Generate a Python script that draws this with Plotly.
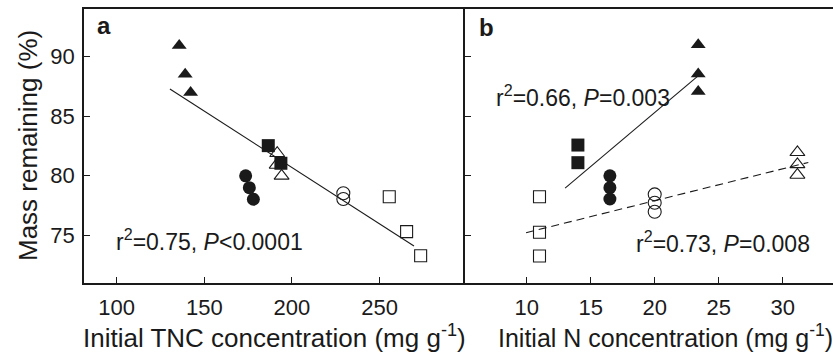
import plotly.graph_objects as go

# ---------------- data ----------------
# Panel a: initial TNC concentration (mg g-1) vs mass remaining (%)
a_filled_tri_x = [135.7, 139.1, 142.2]
a_filled_tri_y = [90.94, 88.52, 87.0]
a_open_tri_x = [191.6, 191.3, 194.1]
a_open_tri_y = [81.89, 80.91, 79.99]
a_filled_sq_x = [186.5, 193.7]
a_filled_sq_y = [82.53, 81.05]
a_filled_circ_x = [173.6, 175.7, 178.0]
a_filled_circ_y = [80.0, 79.0, 78.03]
a_open_circ_x = [229.3, 229.3]
a_open_circ_y = [78.53, 78.05]
a_open_sq_x = [255.5, 265.4, 273.4]
a_open_sq_y = [78.24, 75.31, 73.29]
a_fit_x = [130.4, 269.6]
a_fit_y = [87.28, 74.1]

# Panel b: initial N concentration (mg g-1) vs mass remaining (%)
b_open_sq_x = [11.0, 11.0, 11.0]
b_open_sq_y = [78.24, 75.26, 73.27]
b_filled_sq_x = [14.0, 14.0]
b_filled_sq_y = [82.58, 81.1]
b_filled_circ_x = [16.5, 16.5, 16.5]
b_filled_circ_y = [80.0, 79.0, 78.05]
b_open_circ_x = [20.0, 20.0, 20.0]
b_open_circ_y = [78.44, 77.74, 76.98]
b_filled_tri_x = [23.4, 23.4, 23.4]
b_filled_tri_y = [90.99, 88.55, 87.07]
b_open_tri_x = [31.15, 31.15, 31.15]
b_open_tri_y = [81.97, 80.96, 80.07]
b_fit_solid_x = [13.0, 23.6]
b_fit_solid_y = [78.97, 88.57]
b_fit_dash_x = [9.95, 32.0]
b_fit_dash_y = [75.22, 81.12]

y_ticks = [75, 80, 85, 90]
a_x_ticks = [100, 150, 200, 250]
b_x_ticks = [10, 15, 20, 25, 30]

# ---------------- figure ----------------
FONT = "Liberation Sans, Arial, sans-serif"
INK = "#1a1a1a"
fig = go.Figure()

def pts(x, y, symbol, filled, size, xa, ya):
    if filled:
        marker = dict(symbol=symbol, size=size, color=INK, line=dict(width=0))
    else:
        marker = dict(symbol=symbol + "-open", size=size, color=INK, line=dict(width=1.1))
    fig.add_trace(go.Scatter(x=x, y=y, mode="markers", marker=marker,
                             xaxis=xa, yaxis=ya, showlegend=False, hoverinfo="skip"))

def line(x, y, xa, ya, dash="solid"):
    fig.add_trace(go.Scatter(x=x, y=y, mode="lines", line=dict(color=INK, width=1.1, dash=dash),
                             xaxis=xa, yaxis=ya, showlegend=False, hoverinfo="skip"))

# panel a
line(a_fit_x, a_fit_y, "x", "y")
pts(a_filled_tri_x, a_filled_tri_y, "triangle-up", True, 13, "x", "y")
pts(a_open_tri_x, a_open_tri_y, "triangle-up", False, 13, "x", "y")
pts(a_filled_sq_x, a_filled_sq_y, "square", True, 13, "x", "y")
pts(a_filled_circ_x, a_filled_circ_y, "circle", True, 13, "x", "y")
pts(a_open_circ_x, a_open_circ_y, "circle", False, 13, "x", "y")
pts(a_open_sq_x, a_open_sq_y, "square", False, 12, "x", "y")

# panel b
line(b_fit_solid_x, b_fit_solid_y, "x2", "y2")
line(b_fit_dash_x, b_fit_dash_y, "x2", "y2", dash="8px,5px")
pts(b_open_sq_x, b_open_sq_y, "square", False, 12, "x2", "y2")
pts(b_filled_sq_x, b_filled_sq_y, "square", True, 13, "x2", "y2")
pts(b_filled_circ_x, b_filled_circ_y, "circle", True, 13, "x2", "y2")
pts(b_open_circ_x, b_open_circ_y, "circle", False, 13, "x2", "y2")
pts(b_filled_tri_x, b_filled_tri_y, "triangle-up", True, 13, "x2", "y2")
pts(b_open_tri_x, b_open_tri_y, "triangle-up", False, 13, "x2", "y2")

W, H = 833, 353
L, R, T, B = 84, 0, 9, 70
PW, PH = W - L - R, H - T - B
split = (465 - L) / PW

axis_common = dict(showgrid=False, zeroline=False, showline=True, linecolor=INK, linewidth=1.5,
                   ticks="inside", ticklen=6, tickwidth=1.3, tickcolor=INK,
                   tickfont=dict(family=FONT, size=22, color=INK))

fig.update_layout(
    width=W, height=H,
    margin=dict(l=L, r=R, t=T, b=B, pad=0),
    paper_bgcolor="white", plot_bgcolor="white",
    font=dict(family=FONT, color=INK),
    xaxis=dict(domain=[0, split], range=[81.4, 298.7], tickvals=a_x_ticks, mirror=True,
               anchor="y", ticklabelstandoff=4, **axis_common),
    yaxis=dict(domain=[0, 1], range=[71, 94], tickvals=y_ticks, mirror=False, anchor="x",
               ticklabelstandoff=3, **axis_common),
    xaxis2=dict(domain=[split, 1], range=[5.18, 33.93], tickvals=b_x_ticks, mirror=True,
                anchor="y2", ticklabelstandoff=4, **axis_common),
    yaxis2=dict(domain=[0, 1], range=[71, 94], tickvals=y_ticks, showticklabels=False,
                anchor="x2", **axis_common),
)

def ann(text, x, y, size=23, xanchor="left", bold=False, textangle=0):
    if bold:
        text = "<b>" + text + "</b>"
    fig.add_annotation(text=text, x=(x - L) / PW, y=1 - (y - T) / PH, xref="paper", yref="paper",
                       xanchor=xanchor, yanchor="middle", showarrow=False, textangle=textangle,
                       font=dict(family=FONT, size=size, color=INK))

ann("a", 95, 26, size=24, bold=True)
ann("b", 477, 27, size=24, bold=True)
ann("r<sup>2</sup>=0.75, <i>P</i>&lt;0.0001", 114, 240)
ann("r<sup>2</sup>=0.66, <i>P</i>=0.003", 494, 96)
ann("r<sup>2</sup>=0.73, <i>P</i>=0.008", 634, 242)
ann("Mass remaining (%)", 28, 146, size=26, xanchor="center", textangle=-90)
ann("Initial TNC concentration (mg g<sup>-1</sup>)", 274, 336, size=26, xanchor="center")
ann("Initial N concentration (mg g<sup>-1</sup>)", 665, 336, size=25, xanchor="center")

fig.write_html("out.html")
